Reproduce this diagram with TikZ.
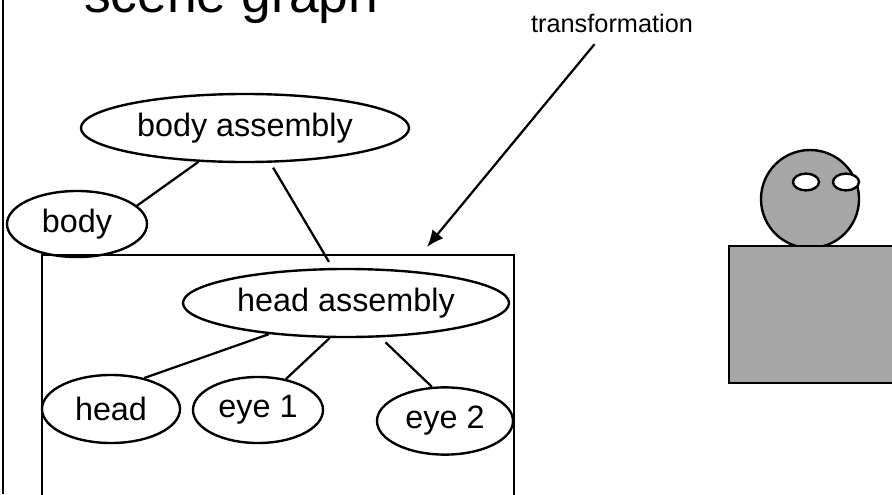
\documentclass[tikz,border=0pt]{standalone}
\usepackage{fontspec}
\setmainfont{Liberation Sans}
\usetikzlibrary{shapes.geometric, arrows.meta, positioning, calc}

\begin{document}
\begin{tikzpicture}[
  x=0.025cm, y=-0.025cm,
  line width=1.6pt,
  font=\fontsize{23}{26}\selectfont,
  part/.style={ellipse, draw=black, line width=1.7pt, inner sep=0pt, minimum height=1.7cm, text centered},
  edge/.style={line width=1.6pt},
  arrow/.style={line width=1.6pt, -{Latex[length=12pt, width=10pt]}},
  figure/.style={draw=black, line width=1.7pt, fill=black!35}
]
\useasboundingbox (0,0) rectangle (892,494);
% slide frame and heading
\draw (3,0) -- (3,494);
\node (title) [anchor=base west, inner sep=0pt, font=\fontsize{38}{44}\selectfont] at (83,12) {scene graph};
\node (trans) [anchor=base west, inner sep=0pt, font=\fontsize{18}{21}\selectfont] at (530,32) {transformation};

% the group that the transformation acts on
\draw (42,255) rectangle (514,520);
\coordinate (tip) at (427,247);

% graph nodes
\node (bodyasm) [part, minimum width=8.2cm] at (245,128) {body assembly};
\node (body) [part, minimum width=3.5cm, minimum height=1.65cm] at (77,224) {body};
\node (headasm) [part, minimum width=8.15cm] at (346,303) {head assembly};
\node (head) [part, minimum width=3.45cm] at (111,409) {head};
\node (eyeone) [part, minimum width=3.25cm, minimum height=1.65cm] at (258,410) {eye 1};
\node (eyetwo) [part, minimum width=3.4cm, minimum height=1.68cm] at (445,421) {eye 2};

\draw [edge] (bodyasm.216) -- (body.17);
\draw [edge, shorten <=4pt, shorten >=5pt] (bodyasm.306) -- (headasm.111);
\draw [edge] (headasm.202) -- (head.43);
\draw [edge] (headasm.245) -- (eyeone.48);
\draw [edge, shorten <=5pt] (headasm.315) -- (eyetwo.111);
\draw [arrow, shorten <=10pt] (trans) -- (tip);

% the drawn figure
\draw [figure] (810,199) circle [radius=1.225cm];
\draw [figure] (729,246) rectangle (900,383);
\draw [figure, fill=white] (806,182) ellipse [x radius=0.325cm, y radius=0.21cm];
\draw [figure, fill=white] (846,182) ellipse [x radius=0.325cm, y radius=0.21cm];
\end{tikzpicture}
\end{document}
